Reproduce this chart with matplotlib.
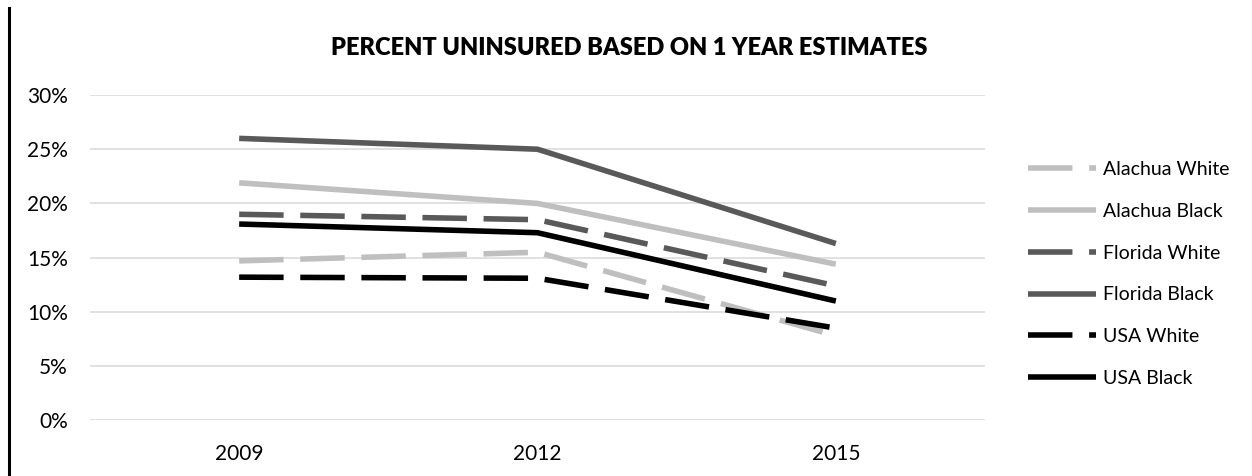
import matplotlib as mpl
import numpy as np

mpl.use('agg')

import matplotlib.pyplot as plt
from matplotlib.lines import Line2D
from matplotlib.ticker import PercentFormatter

plt.rcParams['font.family'] = ['Lato', 'DejaVu Sans']

years = ['2009', '2012', '2015']

alachua_white = [14.7, 15.5, 7.8]
alachua_black = [21.9, 20.0, 14.4]
florida_white = [19.0, 18.5, 12.4]
florida_black = [26.0, 25.0, 16.3]
usa_white = [13.2, 13.1, 8.5]
usa_black = [18.1, 17.3, 11.0]

series = [
    ('Alachua White', alachua_white, '#bfbfbf', True),
    ('Alachua Black', alachua_black, '#bfbfbf', False),
    ('Florida White', florida_white, '#595959', True),
    ('Florida Black', florida_black, '#595959', False),
    ('USA White', usa_white, '#000000', True),
    ('USA Black', usa_black, '#000000', False),
]

fig = plt.figure(figsize=(12.52, 4.76), dpi=100)
ax = fig.add_axes([90 / 1252, 55.7 / 476, 895 / 1252, 325.3 / 476])

x = np.arange(len(years))
for name, vals, color, dashed in series:
    ls = (0, (8, 3)) if dashed else '-'
    ax.plot(x, np.array(vals) / 100, color=color, lw=4, linestyle=ls,
            label=name, dash_capstyle='butt', solid_capstyle='butt',
            solid_joinstyle='round', dash_joinstyle='round')

ax.set_xlim(-0.5, 2.5)
ax.set_ylim(0, 0.30)
ax.set_yticks(np.arange(0, 0.31, 0.05))
ax.yaxis.set_major_formatter(PercentFormatter(1.0, decimals=0))
ax.set_xticks(x)
ax.set_xticklabels(years)
ax.tick_params(axis='both', length=0, labelsize=15, colors='#000000')
ax.tick_params(axis='y', pad=16)
ax.tick_params(axis='x', pad=17)
ax.grid(axis='y', color='#d9d9d9', lw=1.1)
ax.set_axisbelow(True)
for s in ax.spines.values():
    s.set_visible(False)

fig.text(629 / 1252, 1 - 48 / 476, 'PERCENT UNINSURED BASED ON 1 YEAR ESTIMATES',
         ha='center', va='center', fontsize=17, fontweight='heavy')

fig.legend(loc='center left', bbox_to_anchor=(1028 / 1252, 1 - 274 / 476),
           frameon=False, fontsize=14, handlelength=3.5, handletextpad=0.36,
           labelspacing=1.27, borderpad=0, borderaxespad=0)

# left page border
fig.add_artist(Line2D([9 / 1252, 9 / 1252], [0, 1 - 8 / 476],
                      transform=fig.transFigure, color='black', lw=2.2))

fig.savefig('out.png', dpi=100)
